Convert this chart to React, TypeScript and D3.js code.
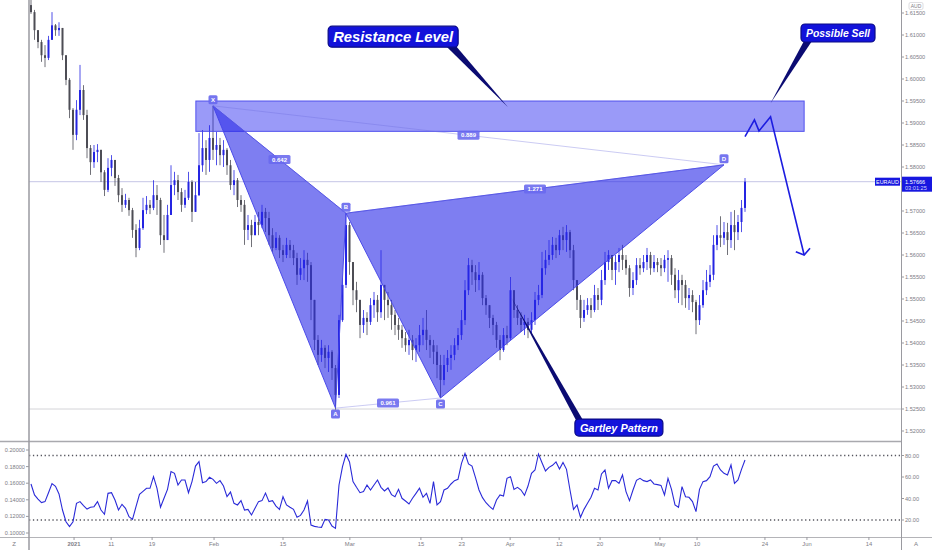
import React from 'react';
import * as d3 from 'd3';

const W = 932;
const H = 550;

// EURAUD, 12h bars. The open of a bar is the close of the bar before it.
const firstOpen = 1.6168;
const closes = [
  1.6152, 1.6111, 1.6084, 1.6054, 1.6048, 1.6089, 1.6122, 1.6111, 1.6116, 1.6054,
  1.5998, 1.593, 1.5873, 1.593, 1.5975, 1.5918, 1.5843, 1.5811, 1.5834, 1.5839,
  1.5788, 1.5748, 1.5798, 1.5816, 1.5775, 1.5736, 1.5714, 1.5725, 1.5702, 1.5657,
  1.5616, 1.5661, 1.5702, 1.5714, 1.5707, 1.5736, 1.5725, 1.5645, 1.5634, 1.5691,
  1.5759, 1.577, 1.5743, 1.5714, 1.573, 1.5766, 1.5698, 1.5736, 1.5804, 1.5843,
  1.5816, 1.5866, 1.5839, 1.585, 1.5827, 1.5839, 1.5804, 1.5759, 1.577, 1.5725,
  1.5714, 1.5657, 1.5668, 1.5645, 1.5675, 1.5668, 1.5698, 1.5684, 1.5645, 1.5616,
  1.5639, 1.5611, 1.56, 1.5623, 1.5611, 1.5593, 1.5555, 1.557, 1.5589, 1.5577,
  1.5498, 1.5407, 1.5373, 1.5389, 1.5366, 1.538, 1.5343, 1.5282, 1.5452, 1.5532,
  1.5668, 1.5584, 1.552, 1.5498, 1.5441, 1.5457, 1.5448, 1.5486, 1.5498, 1.547,
  1.5532, 1.5498, 1.5486, 1.5464, 1.5441, 1.543, 1.5411, 1.5395, 1.5407, 1.5384,
  1.5395, 1.5418, 1.543, 1.5407, 1.5395, 1.538, 1.535, 1.5316, 1.535, 1.5366,
  1.5373, 1.5395, 1.5418, 1.5452, 1.552, 1.5577, 1.5561, 1.5543, 1.5555, 1.5502,
  1.5486, 1.5457, 1.5441, 1.5407, 1.5384, 1.5418, 1.5411, 1.552, 1.5475, 1.5457,
  1.5441, 1.5448, 1.543, 1.5452, 1.5498, 1.5509, 1.557, 1.5589, 1.56, 1.5623,
  1.5611, 1.5645, 1.5634, 1.5652, 1.5611, 1.5543, 1.5498, 1.5457, 1.5475, 1.5486,
  1.5475, 1.5509, 1.5498, 1.5543, 1.5584, 1.56, 1.5566, 1.5584, 1.56, 1.5589,
  1.557, 1.5525, 1.5543, 1.5577, 1.557, 1.5584, 1.56, 1.557, 1.5584, 1.5577,
  1.557, 1.5589, 1.5593, 1.5555, 1.552, 1.5543, 1.5532, 1.5502, 1.5509, 1.5493,
  1.5452, 1.5486, 1.552, 1.5539, 1.5555, 1.5623, 1.5645, 1.5639, 1.5652, 1.5634,
  1.5668, 1.5652, 1.5675, 1.5707, 1.57666,
];
const highs = [
  1.618, 1.6157, 1.61, 1.6089, 1.6077, 1.6098, 1.6152, 1.6125, 1.6129, 1.6116,
  1.6054, 1.6002, 1.5934, 1.5952, 1.6032, 1.5986, 1.593, 1.585, 1.585, 1.5852,
  1.5839, 1.5793, 1.582, 1.5827, 1.5811, 1.5782, 1.5752, 1.5739, 1.573, 1.5707,
  1.567, 1.568, 1.573, 1.5734, 1.5725, 1.577, 1.5759, 1.573, 1.5691, 1.5714,
  1.5804, 1.5789, 1.5782, 1.5752, 1.5748, 1.5789, 1.577, 1.5766, 1.5877, 1.5884,
  1.5861, 1.5895, 1.5939, 1.588, 1.5866, 1.5861, 1.5843, 1.5816, 1.5793, 1.5775,
  1.5736, 1.5725, 1.5691, 1.568, 1.5691, 1.5698, 1.5714, 1.5707, 1.5698, 1.5661,
  1.5652, 1.5645, 1.5623, 1.5639, 1.5634, 1.5623, 1.5605, 1.5593, 1.5611, 1.5605,
  1.5584, 1.5498, 1.5418, 1.5407, 1.5395, 1.5395, 1.5384, 1.535, 1.5464, 1.5548,
  1.5695, 1.5675, 1.5584, 1.5539, 1.5498, 1.5475, 1.547, 1.5502, 1.5516, 1.5509,
  1.5611, 1.5532, 1.5516, 1.5498, 1.5475, 1.5457, 1.5441, 1.5425, 1.543, 1.5418,
  1.5411, 1.5441, 1.5457, 1.5475, 1.5418, 1.5407, 1.5395, 1.5373, 1.5373, 1.5384,
  1.5395, 1.5411, 1.5434, 1.5475, 1.5543, 1.5593, 1.5589, 1.5577, 1.5584, 1.5561,
  1.5509, 1.5486, 1.5464, 1.5448, 1.5418, 1.5434, 1.5439, 1.555, 1.552, 1.5486,
  1.547, 1.5464, 1.5457, 1.547, 1.5516, 1.5532, 1.5607, 1.5611, 1.5634, 1.5641,
  1.5639, 1.5657, 1.5664, 1.5668, 1.5657, 1.5623, 1.5543, 1.5509, 1.5498, 1.5502,
  1.5502, 1.5532, 1.5525, 1.5566, 1.5607, 1.5611, 1.56, 1.56, 1.5616, 1.5623,
  1.56, 1.5577, 1.5561, 1.5593, 1.5593, 1.56, 1.5616, 1.5607, 1.56, 1.5593,
  1.5593, 1.56, 1.5611, 1.56, 1.557, 1.5566, 1.5555, 1.5543, 1.5525, 1.552,
  1.5498, 1.5509, 1.5543, 1.5566, 1.5577, 1.5645, 1.5668, 1.5688, 1.5675, 1.5673,
  1.5698, 1.5702, 1.5691, 1.5725, 1.5775,
];
const lows = [
  1.6148, 1.6089, 1.607, 1.6039, 1.6027, 1.6043, 1.61, 1.6098, 1.6098, 1.6043,
  1.5986, 1.5911, 1.5839, 1.5861, 1.5918, 1.5907, 1.582, 1.5782, 1.5798, 1.5811,
  1.5766, 1.5734, 1.5743, 1.5779, 1.5757, 1.572, 1.5698, 1.5707, 1.5689, 1.5639,
  1.5595, 1.5611, 1.5657, 1.5693, 1.5693, 1.5702, 1.5691, 1.5623, 1.5605, 1.5634,
  1.5691, 1.5736, 1.5725, 1.5698, 1.5707, 1.5725, 1.5675, 1.5698, 1.5734, 1.5789,
  1.5782, 1.5789, 1.5816, 1.5804, 1.5804, 1.58, 1.5782, 1.5748, 1.5736, 1.5709,
  1.5698, 1.5623, 1.5634, 1.5618, 1.5645, 1.5645, 1.5661, 1.5652, 1.5623, 1.5607,
  1.5611, 1.5593, 1.5584, 1.5593, 1.5593, 1.5577, 1.5532, 1.5543, 1.5543, 1.5539,
  1.5452, 1.5384, 1.535, 1.5357, 1.5343, 1.5334, 1.5316, 1.5248, 1.5275, 1.5448,
  1.5525, 1.5555, 1.5486, 1.547, 1.5411, 1.5423, 1.5418, 1.5441, 1.5457, 1.5448,
  1.5457, 1.5452, 1.5457, 1.543, 1.5418, 1.5407, 1.5389, 1.538, 1.5373, 1.5361,
  1.5357, 1.538, 1.5395, 1.5384, 1.5366, 1.5352, 1.532, 1.5275, 1.5304, 1.5334,
  1.5339, 1.5361, 1.5384, 1.5407, 1.5441, 1.5509, 1.5532, 1.5516, 1.552, 1.5486,
  1.5464, 1.5434, 1.5418, 1.5389, 1.5361, 1.538, 1.5395, 1.5407, 1.5457, 1.5441,
  1.5425, 1.5418, 1.5411, 1.5418, 1.5441, 1.5486, 1.5502, 1.5555, 1.5577, 1.5589,
  1.5593, 1.56, 1.5611, 1.5607, 1.5593, 1.552, 1.5475, 1.5434, 1.5448, 1.5464,
  1.5457, 1.547, 1.5475, 1.5486, 1.5532, 1.5566, 1.5543, 1.5532, 1.5561, 1.5566,
  1.5555, 1.5505, 1.5509, 1.5532, 1.5555, 1.5561, 1.5566, 1.5555, 1.5561, 1.5561,
  1.5552, 1.5561, 1.5539, 1.5532, 1.5502, 1.5491, 1.5486, 1.548, 1.5475, 1.547,
  1.542, 1.5441, 1.548, 1.5509, 1.5527, 1.5543, 1.5611, 1.5618, 1.5623, 1.56,
  1.5616, 1.5611, 1.5634, 1.5652, 1.5698,
];

// oscillator in the lower pane, one value per bar
const oscValues = [
  53.5, 43.3, 39.5, 36.2, 37.1, 45.4, 53.8, 51.3, 44.2, 29.3,
  18.4, 13.8, 18.4, 35.5, 37.1, 33.3, 30.2, 31.8, 32.4, 37.1,
  29.3, 25.3, 44.8, 45.4, 38.6, 29.3, 34.6, 30.9, 23.1, 20.6,
  32.4, 43.9, 46.7, 49.5, 49.5, 60.3, 49.5, 31.8, 40.2, 48.5,
  65.0, 63.4, 52.6, 57.2, 57.2, 45.4, 55.7, 70.2, 74.3, 54.7,
  55.7, 59.7, 57.8, 54.1, 56.6, 51.6, 41.7, 46.0, 35.5, 34.0,
  38.0, 29.3, 29.9, 24.7, 30.9, 37.1, 38.0, 45.1, 37.1, 38.0,
  33.0, 29.9, 41.7, 34.0, 31.8, 29.9, 22.5, 24.3, 29.3, 37.7,
  15.3, 14.1, 13.5, 13.2, 20.6, 20.0, 14.4, 12.2, 52.6, 69.6,
  81.0, 74.0, 55.7, 50.4, 45.4, 46.4, 52.6, 47.9, 52.6, 57.2,
  50.4, 47.0, 49.8, 43.6, 41.7, 48.5, 40.2, 37.7, 34.9, 40.2,
  44.8, 49.5, 41.1, 44.8, 35.5, 55.7, 34.0, 37.1, 47.9, 49.5,
  53.5, 56.6, 57.8, 72.7, 82.0, 72.1, 70.2, 59.4, 47.9, 40.8,
  36.1, 32.7, 29.9, 38.6, 43.3, 42.3, 58.8, 60.3, 48.5, 50.4,
  47.9, 42.9, 51.6, 63.4, 66.5, 81.4, 73.3, 65.6, 69.0, 70.9,
  74.0, 67.4, 73.6, 67.1, 47.9, 29.9, 34.0, 22.5, 29.9, 35.5,
  41.1, 49.5, 47.9, 62.8, 66.5, 49.5, 56.6, 56.6, 54.1, 61.9,
  46.4, 38.0, 47.9, 56.9, 58.8, 56.6, 55.7, 57.2, 53.5, 52.9,
  52.2, 43.3, 58.8, 48.5, 34.0, 31.8, 51.0, 41.7, 41.1, 37.1,
  27.8, 48.5, 55.7, 56.6, 60.3, 70.2, 72.1, 66.5, 63.4, 61.9,
  71.2, 54.1, 57.2, 67.1, 75.8,
];

const priceTicks = [
  1.615, 1.61, 1.605, 1.6, 1.595, 1.59, 1.585, 1.58, 1.57, 1.565,
  1.56, 1.555, 1.55, 1.545, 1.54, 1.535, 1.53, 1.525, 1.52,
];
const oscTicks = [80, 60, 40, 20];
const oscLevels = [80, 20];
const oscLeftTicks = [0.2, 0.18, 0.16, 0.14, 0.12, 0.1];

const timeLabels = ['2021', '11', '19', 'Feb', '15', 'Mar', '15', '23', 'Apr', '12', '20', 'May', '10', '24', 'Jun', '14'];
const timeLabelBars = [12.3, 22.9, 34.6, 52.3, 72, 91.1, 111.4, 123.1, 136.9, 150.9, 162.6, 179.7, 190.3, 209.7, 221.7, 239.4];

// harmonic pattern X A B C D
const pointNames = ['X', 'A', 'B', 'C', 'D'];
const pointBars = [52, 87, 90, 117, 198];
const pointPrices = [1.5939, 1.5252, 1.5695, 1.5275, 1.5805];
const ratioTexts = ['0.642', '0.961', '0.889', '1.271'];
const ratioLegs = [[0, 2], [1, 3], [0, 4], [2, 4]];

// resistance zone
const zoneBars = [47.1, 220.9];
const zonePrices = [1.595, 1.5881];

const lastPrice = 1.57666;
const levelPrice = 1.525;

// hand drawn projection
const pathBars = [204, 206.7, 208, 211.3, 220.9];
const pathPrices = [1.5869, 1.5907, 1.5882, 1.5914, 1.56];

const calloutTexts = ['Resistance Level', 'Possible Sell', 'Gartley Pattern'];
const calloutTipBars = [136.3, 211.3, 137.3];
const calloutTipPrices = [1.5936, 1.5945, 1.5502];
const calloutBoxBars = [84.9, 220, 155.4];
const calloutBoxPrices = [1.612, 1.6125, 1.5227];

const calloutStyle = [
  { w: 130, h: 21, fs: 15, tl: 120, edge: 'bottom', b0: 118, b1: 128 },
  { w: 74, h: 18, fs: 11, tl: 64, edge: 'bottom', b0: 3, b1: 11 },
  { w: 88, h: 17, fs: 11, tl: 78, edge: 'top', b0: 1, b1: 8 },
];

const AXIS_FONT = '"Liberation Sans", Arial, sans-serif';
const UP = '#2525e2';
const DOWN = '#4d4d55';
const PATTERN_FILL = 'rgba(40,40,232,0.6)';
const PATTERN_EDGE = 'rgba(70,70,232,0.95)';

const PLOT_L = 29;
const PLOT_R = 901;
const MAIN_B = 441;
const OSC_T = 442;
const OSC_B = 537;

export default function App() {
  const x = d3.scaleLinear().domain([0, closes.length - 1]).range([31, 745]);
  const y = d3.scaleLinear().domain([1.52, 1.615]).range([431, 13]);
  const yOsc = d3.scaleLinear().domain([20, 80]).range([520, 455.5]);
  const yOscLeft = d3.scaleLinear().domain([0.1, 0.2]).range([533, 450]);
  const fmt5 = d3.format('.5f');
  const fmt2 = d3.format('.2f');

  const candles = closes.map((c, i) => {
    const o = i === 0 ? firstOpen : closes[i - 1];
    return { i, o, c, h: Math.max(highs[i], o, c), l: Math.min(lows[i], o, c) };
  });

  const oscLine = d3
    .line<number>()
    .x((_, i) => x(i))
    .y(d => yOsc(d));

  const pt = (k: number): [number, number] => [x(pointBars[k]), y(pointPrices[k])];
  const tri = (ks: number[]) => ks.map(k => pt(k).join(',')).join(' ');

  const projection = pathBars.map((b, i) => [x(b), y(pathPrices[i])] as [number, number]);
  const end = projection[projection.length - 1];
  const prev = projection[projection.length - 2];
  const back = Math.atan2(prev[1] - end[1], prev[0] - end[0]);
  const wing = (a: number) => [end[0] + 9 * Math.cos(back + a), end[1] + 9 * Math.sin(back + a)];
  const w1 = wing(0.95);
  const w2 = wing(-0.95);

  return (
    <div style={{ position: 'absolute', left: 0, top: 0 }}>
      <svg width={W} height={H} style={{ display: 'block', background: '#ffffff' }}>
        <defs>
          <clipPath id="mainClip">
            <rect x={PLOT_L} y={0} width={PLOT_R - PLOT_L} height={MAIN_B} />
          </clipPath>
          <clipPath id="oscClip">
            <rect x={PLOT_L} y={OSC_T} width={PLOT_R - PLOT_L} height={OSC_B - OSC_T} />
          </clipPath>
        </defs>

        {/* main pane */}
        <g clipPath="url(#mainClip)">
          <line x1={PLOT_L} x2={PLOT_R} y1={y(levelPrice)} y2={y(levelPrice)} stroke="#d4d4d8" strokeWidth={1} />
          <line x1={PLOT_L} x2={PLOT_R} y1={y(lastPrice)} y2={y(lastPrice)} stroke="#c6c6e6" strokeWidth={1} />

          {candles.map(d => {
            const col = d.c >= d.o ? UP : DOWN;
            const top = y(Math.max(d.o, d.c));
            const bot = y(Math.min(d.o, d.c));
            return (
              <g key={d.i}>
                <line x1={x(d.i)} x2={x(d.i)} y1={y(d.h)} y2={y(d.l)} stroke={col} strokeWidth={0.8} />
                <rect x={x(d.i) - 1} y={top} width={2} height={Math.max(1, bot - top)} fill={col} />
              </g>
            );
          })}

          {/* resistance zone */}
          <rect
            x={x(zoneBars[0])}
            y={y(zonePrices[0])}
            width={x(zoneBars[1]) - x(zoneBars[0])}
            height={y(zonePrices[1]) - y(zonePrices[0])}
            fill="rgba(30,30,240,0.45)"
            stroke="rgba(70,70,235,0.9)"
            strokeWidth={1}
          />

          {/* pattern */}
          <polygon points={tri([0, 1, 2])} fill={PATTERN_FILL} stroke={PATTERN_EDGE} strokeWidth={1} />
          <polygon points={tri([2, 3, 4])} fill={PATTERN_FILL} stroke={PATTERN_EDGE} strokeWidth={1} />
          {ratioLegs.map(([a, b], i) => (
            <line
              key={'leg' + i}
              x1={pt(a)[0]}
              y1={pt(a)[1]}
              x2={pt(b)[0]}
              y2={pt(b)[1]}
              stroke="rgba(110,110,220,0.45)"
              strokeWidth={0.8}
            />
          ))}
          {ratioLegs.map(([a, b], i) => {
            const mx = (pt(a)[0] + pt(b)[0]) / 2;
            const my = (pt(a)[1] + pt(b)[1]) / 2;
            return (
              <g key={'ratio' + i}>
                <rect x={mx - 11} y={my - 4.5} width={22} height={9} rx={1.5} fill="rgba(105,105,238,0.88)" />
                <text x={mx} y={my + 2.1} textAnchor="middle" fontFamily={AXIS_FONT} fontSize={6} fontWeight="bold" fill="#ffffff">
                  {ratioTexts[i]}
                </text>
              </g>
            );
          })}
          {pointNames.map((n, k) => {
            const [px, py] = pt(k);
            const ly = n === 'A' || n === 'C' ? py + 6 : py - 6;
            return (
              <g key={n}>
                <rect x={px - 4.5} y={ly - 4.5} width={9} height={9} rx={1.5} fill="rgba(105,105,238,0.92)" />
                <text x={px} y={ly + 2.1} textAnchor="middle" fontFamily={AXIS_FONT} fontSize={6} fontWeight="bold" fill="#ffffff">
                  {n}
                </text>
              </g>
            );
          })}

          {/* projection */}
          <polyline points={projection.map(p => p.join(',')).join(' ')} fill="none" stroke="#1d1de0" strokeWidth={1.6} strokeLinejoin="miter" />
          <polyline points={[w1, end, w2].map(p => p.join(',')).join(' ')} fill="none" stroke="#1d1de0" strokeWidth={1.6} />

          {/* callouts */}
          {calloutTexts.map((t, k) => {
            const s = calloutStyle[k];
            const bx = x(calloutBoxBars[k]);
            const by = y(calloutBoxPrices[k]);
            const baseY = s.edge === 'bottom' ? by + s.h - 1 : by + 1;
            const tip = [x(calloutTipBars[k]), y(calloutTipPrices[k])];
            return (
              <g key={t}>
                <polygon points={`${bx + s.b0},${baseY} ${bx + s.b1},${baseY} ${tip[0]},${tip[1]}`} fill="#0b0b72" />
                <rect x={bx} y={by} width={s.w} height={s.h} rx={4} fill="#1212da" stroke="#0a0a86" strokeWidth={1.2} />
                <text
                  x={bx + s.w / 2}
                  y={by + s.h / 2 + s.fs * 0.36}
                  textAnchor="middle"
                  fontFamily={AXIS_FONT}
                  fontSize={s.fs}
                  fontWeight="bold"
                  fontStyle="italic"
                  fill="#ffffff"
                  textLength={s.tl}
                  lengthAdjust="spacingAndGlyphs"
                >
                  {t}
                </text>
              </g>
            );
          })}
        </g>

        {/* oscillator pane */}
        <g clipPath="url(#oscClip)">
          {oscLevels.map(v => (
            <line key={v} x1={PLOT_L} x2={PLOT_R} y1={yOsc(v)} y2={yOsc(v)} stroke="#55555e" strokeWidth={1.3} strokeDasharray="1.3,2.6" />
          ))}
          <path d={oscLine(oscValues) || ''} fill="none" stroke="#2a2ad8" strokeWidth={1.1} />
        </g>

        {/* frame lines */}
        <line x1={0} x2={PLOT_R} y1={MAIN_B + 0.5} y2={MAIN_B + 0.5} stroke="#a9a9ae" strokeWidth={1.5} />
        <line x1={0} x2={W} y1={OSC_B + 0.5} y2={OSC_B + 0.5} stroke="#b4b4b8" strokeWidth={1} />
        <line x1={PLOT_L} x2={PLOT_L} y1={0} y2={H} stroke="#9a9aa0" strokeWidth={1.5} />
        <line x1={PLOT_R + 0.5} x2={PLOT_R + 0.5} y1={0} y2={H} stroke="#9a9aa0" strokeWidth={1} />

        {/* price axis */}
        {priceTicks.map(v => (
          <g key={v}>
            <line x1={PLOT_R} x2={PLOT_R + 3} y1={y(v)} y2={y(v)} stroke="#9a9aa0" />
            <text x={905} y={y(v) + 2} fontFamily={AXIS_FONT} fontSize={5.6} fill="#7d7d85">
              {fmt5(v)}
            </text>
          </g>
        ))}
        <rect x={909} y={2.5} width={14} height={7} rx={1.5} fill="#ffffff" stroke="#c8c8cc" strokeWidth={0.6} />
        <text x={916} y={7.8} textAnchor="middle" fontFamily={AXIS_FONT} fontSize={5} fill="#7d7d85">
          AUD
        </text>

        {/* last price tags */}
        <rect x={875} y={y(lastPrice) - 4} width={25} height={8} fill="#1717e0" />
        <text x={887.5} y={y(lastPrice) + 2} textAnchor="middle" fontFamily={AXIS_FONT} fontSize={5.4} fill="#ffffff">
          EURAUD
        </text>
        <rect x={PLOT_R + 1} y={y(lastPrice) - 5} width={W - PLOT_R - 1} height={15} fill="#1717e0" />
        <text x={905} y={y(lastPrice) + 2} fontFamily={AXIS_FONT} fontSize={5.6} fill="#ffffff">
          {fmt5(lastPrice)}
        </text>
        <text x={905} y={y(lastPrice) + 8} fontFamily={AXIS_FONT} fontSize={5.6} fill="#d4d4ff">
          03:01:25
        </text>

        {/* oscillator axes */}
        {oscTicks.map(v => (
          <g key={v}>
            <line x1={PLOT_R} x2={PLOT_R + 3} y1={yOsc(v)} y2={yOsc(v)} stroke="#9a9aa0" />
            <text x={905} y={yOsc(v) + 2} fontFamily={AXIS_FONT} fontSize={5.6} fill="#7d7d85">
              {fmt2(v)}
            </text>
          </g>
        ))}
        {oscLeftTicks.map(v => (
          <g key={v}>
            <line x1={PLOT_L - 3} x2={PLOT_L} y1={yOscLeft(v)} y2={yOscLeft(v)} stroke="#9a9aa0" />
            <text x={PLOT_L - 4} y={yOscLeft(v) + 2} textAnchor="end" fontFamily={AXIS_FONT} fontSize={5.6} fill="#7d7d85">
              {fmt5(v)}
            </text>
          </g>
        ))}

        {/* time axis */}
        {timeLabels.map((t, i) => (
          <g key={t + i}>
            <line x1={x(timeLabelBars[i])} x2={x(timeLabelBars[i])} y1={OSC_B} y2={OSC_B + 3} stroke="#9a9aa0" />
            <text
              x={x(timeLabelBars[i])}
              y={546}
              textAnchor="middle"
              fontFamily={AXIS_FONT}
              fontSize={5.8}
              fontWeight={t === '2021' ? 'bold' : 'normal'}
              fill="#7d7d85"
            >
              {t}
            </text>
          </g>
        ))}
        <text x={14} y={546} textAnchor="middle" fontFamily={AXIS_FONT} fontSize={6} fill="#7d7d85">
          Z
        </text>
        <text x={916} y={546} textAnchor="middle" fontFamily={AXIS_FONT} fontSize={6} fill="#7d7d85">
          A
        </text>
      </svg>
    </div>
  );
}
